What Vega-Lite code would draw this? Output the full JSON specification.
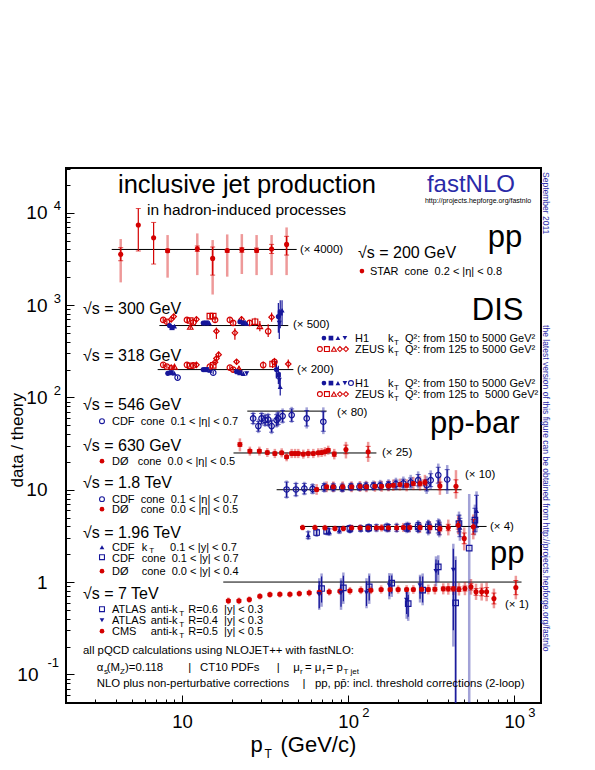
{
"$schema": "https://vega.github.io/schema/vega-lite/v6.json",
"width": 475, "height": 535,
"autosize": {"type": "none"},
"padding": {"left": 66, "top": 168, "right": 54, "bottom": 67},
"background": "white",
"config": {"view": {"stroke": "black", "strokeWidth": 2}, "font": "Liberation Sans",
  "axis": {"grid": false, "domain": false, "labelFont": "Liberation Sans", "titleFont": "Liberation Sans", "labelColor": "black", "titleColor": "black", "tickColor": "black", "labelFlush": false, "labelOverlap": false, "labelBound": false, "titleFontWeight": "normal"}},
"resolve": {"axis": {"x": "independent", "y": "independent"}},
"datasets": {
"ax": [{"x": 10, "y": 1}],
"lines": [
{"g":"a","x":3.77,"y":4000},{"g":"a","x":49.0,"y":4000},
{"g":"b","x":7.3,"y":600},{"g":"b","x":43.6,"y":600},
{"g":"c","x":7.13,"y":200},{"g":"c","x":46.8,"y":200},
{"g":"d","x":24.7,"y":71},{"g":"d","x":74.2,"y":71},
{"g":"e","x":20.4,"y":25},{"g":"e","x":148,"y":25},
{"g":"f","x":37.1,"y":10},{"g":"f","x":482,"y":10},
{"g":"g","x":51.3,"y":4},{"g":"g","x":682,"y":4},
{"g":"h","x":17.7,"y":1},{"g":"h","x":1107,"y":1}
],
"pts": [
{"s":"STAR","x":4.27,"y":3540,"lo":1760,"hi":5190,"slo":3020,"shi":4180},
{"s":"STAR","x":5.45,"y":7350,"slo":3850,"shi":11100},
{"s":"STAR","x":6.74,"y":5360,"slo":2780,"shi":7850},
{"s":"STAR","x":8.18,"y":3880,"lo":1980,"hi":5730,"slo":3720,"shi":4040},
{"s":"STAR","x":12.35,"y":4070,"lo":2110,"hi":5970,"slo":3810,"shi":4360},
{"s":"STAR","x":15.28,"y":3200,"lo":1300,"hi":5060,"slo":2110,"shi":4250},
{"s":"STAR","x":18.7,"y":3900,"lo":2030,"hi":5820,"slo":3720,"shi":4010},
{"s":"STAR","x":22.9,"y":3970,"lo":2170,"hi":5870,"slo":3720,"shi":4180},
{"s":"STAR","x":28.1,"y":3900,"lo":2110,"hi":5730,"slo":3720,"shi":4140},
{"s":"STAR","x":34.6,"y":4040,"lo":2110,"hi":5730,"slo":3620,"shi":4540},
{"s":"STAR","x":42.6,"y":4540,"lo":2110,"hi":6930,"slo":3480,"shi":5550},

{"s":"ZEUS a","x":7.7,"y":690,"slo":650,"shi":730},
{"s":"ZEUS a","x":8.1,"y":660,"slo":625,"shi":700},
{"s":"ZEUS a","x":10.7,"y":690,"slo":655,"shi":725},
{"s":"ZEUS a","x":11.7,"y":650,"slo":615,"shi":690},
{"s":"ZEUS a","x":15.8,"y":690,"slo":650,"shi":730},
{"s":"ZEUS a","x":19.4,"y":690,"slo":650,"shi":735},
{"s":"ZEUS a","x":20.3,"y":640,"slo":600,"shi":690},
{"s":"ZEUS a","x":25.5,"y":640,"slo":595,"shi":690},
{"s":"ZEUS a","x":33.0,"y":520,"slo":450,"shi":620},
{"s":"ZEUS b","x":11.2,"y":680,"slo":645,"shi":720},
{"s":"ZEUS b","x":14.7,"y":760,"slo":715,"shi":800},
{"s":"ZEUS b","x":15.4,"y":760,"slo":715,"shi":805},
{"s":"ZEUS b","x":27.5,"y":660,"slo":600,"shi":730},
{"s":"ZEUS c","x":11.2,"y":580,"slo":550,"shi":610},
{"s":"ZEUS c","x":29.4,"y":590,"slo":520,"shi":670},
{"s":"ZEUS d","x":8.6,"y":700,"slo":665,"shi":740},
{"s":"ZEUS d","x":12.2,"y":700,"slo":660,"shi":745},
{"s":"ZEUS d","x":16.1,"y":520,"slo":430,"shi":570},
{"s":"ZEUS d","x":20.8,"y":500,"slo":420,"shi":560},
{"s":"ZEUS d","x":34.6,"y":740,"slo":660,"shi":830},
{"s":"ZEUS e","x":8.9,"y":750,"slo":700,"shi":800},
{"s":"ZEUS e","x":22.8,"y":700,"slo":650,"shi":760},
{"s":"H1 a","x":8.4,"y":600,"slo":575,"shi":625},
{"s":"H1 a","x":13.4,"y":640,"slo":615,"shi":665},
{"s":"H1 a","x":22.3,"y":660,"slo":630,"shi":690},
{"s":"H1 a","x":38,"y":750,"slo":500,"shi":1050},
{"s":"H1 b","x":8.7,"y":570,"slo":548,"shi":595},
{"s":"H1 b","x":14.0,"y":640,"slo":615,"shi":665},
{"s":"H1 b","x":23.4,"y":640,"slo":610,"shi":670},
{"s":"H1 b","x":39,"y":820,"slo":560,"shi":1130},
{"s":"H1 c","x":9.0,"y":590,"slo":565,"shi":615},
{"s":"H1 c","x":14.6,"y":640,"slo":615,"shi":665},
{"s":"H1 c","x":24.5,"y":630,"slo":600,"shi":660},
{"s":"H1 c","x":40,"y":880,"slo":600,"shi":1130},
{"s":"H1 d","x":38.5,"y":640,"slo":430,"shi":900},

{"s":"ZEUS a","x":7.7,"y":225,"slo":214,"shi":236},
{"s":"ZEUS a","x":8.1,"y":215,"slo":205,"shi":226},
{"s":"ZEUS a","x":10.7,"y":225,"slo":214,"shi":237},
{"s":"ZEUS a","x":11.7,"y":222,"slo":211,"shi":233},
{"s":"ZEUS a","x":14.7,"y":215,"slo":204,"shi":227},
{"s":"ZEUS a","x":19.4,"y":210,"slo":198,"shi":222},
{"s":"ZEUS a","x":20.3,"y":200,"slo":188,"shi":212},
{"s":"ZEUS a","x":30.8,"y":224,"slo":205,"shi":245},
{"s":"ZEUS a","x":36,"y":243,"slo":220,"shi":268},
{"s":"ZEUS b","x":11.2,"y":220,"slo":209,"shi":231},
{"s":"ZEUS b","x":15.4,"y":222,"slo":210,"shi":234},
{"s":"ZEUS b","x":35.1,"y":230,"slo":208,"shi":255},
{"s":"ZEUS c","x":9.0,"y":215,"slo":205,"shi":226},
{"s":"ZEUS c","x":22,"y":205,"slo":192,"shi":218},
{"s":"ZEUS d","x":8.6,"y":210,"slo":200,"shi":221},
{"s":"ZEUS d","x":12.2,"y":225,"slo":213,"shi":237},
{"s":"ZEUS d","x":16.6,"y":290,"slo":270,"shi":312},
{"s":"ZEUS d","x":21.3,"y":243,"slo":228,"shi":258},
{"s":"ZEUS d","x":43.6,"y":230,"slo":205,"shi":258},
{"s":"ZEUS e","x":16.1,"y":264,"slo":247,"shi":282},
{"s":"ZEUS e","x":15.8,"y":240,"slo":226,"shi":254},
{"s":"H1 a","x":8.2,"y":182,"slo":174,"shi":190},
{"s":"H1 a","x":13.4,"y":200,"slo":192,"shi":208},
{"s":"H1 a","x":21.3,"y":190,"slo":181,"shi":199},
{"s":"H1 a","x":37,"y":200,"slo":160,"shi":250},
{"s":"H1 b","x":8.6,"y":185,"slo":177,"shi":193},
{"s":"H1 b","x":14.0,"y":200,"slo":192,"shi":208},
{"s":"H1 b","x":22.3,"y":185,"slo":176,"shi":194},
{"s":"H1 b","x":38,"y":175,"slo":140,"shi":220},
{"s":"H1 c","x":9.0,"y":182,"slo":174,"shi":190},
{"s":"H1 c","x":14.7,"y":195,"slo":187,"shi":203},
{"s":"H1 c","x":23.4,"y":180,"slo":171,"shi":189},
{"s":"H1 c","x":39,"y":130,"slo":105,"shi":160},
{"s":"H1 d","x":24.5,"y":182,"slo":173,"shi":191},
{"s":"H1 d","x":38.5,"y":154,"slo":125,"shi":190},
{"s":"H1 e","x":9.4,"y":164,"slo":157,"shi":171},
{"s":"H1 e","x":15.4,"y":185,"slo":177,"shi":193},

{"s":"CDF","x":26.8,"y":59.2,"slo":52,"shi":67,"lo":50,"hi":70},
{"s":"CDF","x":28.8,"y":48.9,"slo":43,"shi":55,"lo":41,"hi":58},
{"s":"CDF","x":30.1,"y":59.2,"slo":52,"shi":67,"lo":50,"hi":70},
{"s":"CDF","x":31.6,"y":56.8,"slo":50,"shi":64,"lo":48,"hi":67},
{"s":"CDF","x":33.0,"y":57.5,"slo":50,"shi":65,"lo":48,"hi":68},
{"s":"CDF","x":34.6,"y":48.9,"slo":42,"shi":56,"lo":40,"hi":59},
{"s":"CDF","x":37.1,"y":56.8,"slo":49,"shi":65,"lo":47,"hi":68},
{"s":"CDF","x":37.9,"y":59.2,"slo":51,"shi":68,"lo":49,"hi":71},
{"s":"CDF","x":40.3,"y":62.7,"slo":54,"shi":72,"lo":52,"hi":76},
{"s":"CDF","x":45.7,"y":64.3,"slo":55,"shi":75,"lo":53,"hi":79},
{"s":"CDF","x":56.3,"y":59.2,"slo":49,"shi":72,"lo":46,"hi":78},
{"s":"CDF","x":70.9,"y":54.5,"slo":43,"shi":70,"lo":40,"hi":78},

{"s":"D0","x":22.3,"y":30.9,"slo":29.5,"shi":32.4,"lo":26,"hi":36},
{"s":"D0","x":25.6,"y":26.2,"slo":25.2,"shi":27.2,"lo":23.4,"hi":29.3},
{"s":"D0","x":29.2,"y":26.2,"slo":25.2,"shi":27.2,"lo":23.4,"hi":29.3},
{"s":"D0","x":32.6,"y":25.3,"slo":24.3,"shi":26.3,"lo":22.6,"hi":28.3},
{"s":"D0","x":36.2,"y":24.7,"slo":23.7,"shi":25.7,"lo":22.0,"hi":27.7},
{"s":"D0","x":39.8,"y":25.1,"slo":24.1,"shi":26.1,"lo":22.4,"hi":28.1},
{"s":"D0","x":42.6,"y":22.7,"slo":21.8,"shi":23.6,"lo":20.3,"hi":25.4},
{"s":"D0","x":45.7,"y":24.7,"slo":23.7,"shi":25.7,"lo":22.0,"hi":27.7},
{"s":"D0","x":47.9,"y":24.7,"slo":23.7,"shi":25.7,"lo":22.0,"hi":27.7},
{"s":"D0","x":50.1,"y":24.7,"slo":23.7,"shi":25.7,"lo":22.0,"hi":27.7},
{"s":"D0","x":53.7,"y":24.3,"slo":23.3,"shi":25.3,"lo":21.7,"hi":27.2},
{"s":"D0","x":57.5,"y":24.7,"slo":23.7,"shi":25.7,"lo":22.0,"hi":27.7},
{"s":"D0","x":61.7,"y":24.7,"slo":23.7,"shi":25.7,"lo":22.0,"hi":27.7},
{"s":"D0","x":66.1,"y":25.1,"slo":24.1,"shi":26.1,"lo":22.4,"hi":28.1},
{"s":"D0","x":69.2,"y":25.3,"slo":24.3,"shi":26.3,"lo":22.6,"hi":28.3},
{"s":"D0","x":72.5,"y":25.8,"slo":24.8,"shi":26.8,"lo":23.0,"hi":28.9},
{"s":"D0","x":75.9,"y":26.8,"slo":25.7,"shi":27.9,"lo":23.9,"hi":30.0},
{"s":"D0","x":82.5,"y":24.3,"slo":23.0,"shi":25.6,"lo":21.3,"hi":27.7},
{"s":"D0","x":97.0,"y":27.3,"slo":24.5,"shi":30.4,"lo":21.8,"hi":33},
{"s":"D0","x":132,"y":25.8,"slo":22.5,"shi":29.5,"lo":20,"hi":33},

{"s":"CDF","x":42.6,"y":10.06,"slo":8.3,"shi":12.1,"lo":8.0,"hi":12.6},
{"s":"CDF","x":48.5,"y":10.06,"slo":8.6,"shi":11.7,"lo":8.3,"hi":12.2},
{"s":"CDF","x":54.5,"y":10.3,"slo":9.0,"shi":11.7,"lo":8.7,"hi":12.2},
{"s":"CDF","x":61.1,"y":10.2,"slo":9.2,"shi":11.3,"lo":8.9,"hi":11.8},
{"s":"CDF","x":71.8,"y":10.6,"slo":9.6,"shi":11.7,"lo":9.3,"hi":12.2},
{"s":"CDF","x":81.4,"y":10.6,"slo":9.7,"shi":11.6,"lo":9.4,"hi":12.1},
{"s":"CDF","x":92.2,"y":10.5,"slo":9.6,"shi":11.5,"lo":9.3,"hi":12.0},
{"s":"CDF","x":104,"y":10.75,"slo":9.9,"shi":11.7,"lo":9.6,"hi":12.2},
{"s":"CDF","x":117,"y":10.75,"slo":9.9,"shi":11.7,"lo":9.6,"hi":12.2},
{"s":"CDF","x":128,"y":10.9,"slo":10.0,"shi":11.9,"lo":9.6,"hi":12.5},
{"s":"CDF","x":142,"y":11.0,"slo":10.1,"shi":12.0,"lo":9.7,"hi":12.6},
{"s":"CDF","x":156,"y":11.1,"slo":10.2,"shi":12.1,"lo":9.7,"hi":12.8},
{"s":"CDF","x":175,"y":11.2,"slo":10.2,"shi":12.3,"lo":9.7,"hi":13.0},
{"s":"CDF","x":194,"y":11.5,"slo":10.4,"shi":12.7,"lo":9.9,"hi":13.5},
{"s":"CDF","x":215,"y":11.7,"slo":10.5,"shi":13.0,"lo":10.0,"hi":13.9},
{"s":"CDF","x":238,"y":12.0,"slo":10.7,"shi":13.4,"lo":10.1,"hi":14.5},
{"s":"CDF","x":264,"y":12.7,"slo":11.0,"shi":14.6,"lo":10.3,"hi":15.8},
{"s":"CDF","x":297,"y":11.2,"slo":9.7,"shi":12.9,"lo":9.0,"hi":14.0},
{"s":"CDF","x":314,"y":12.7,"slo":10.8,"shi":14.9,"lo":10.0,"hi":16.2},
{"s":"CDF","x":349,"y":14.4,"slo":11.8,"shi":17.5,"lo":10.8,"hi":19.2},
{"s":"CDF","x":395,"y":12.9,"slo":10.0,"shi":16.5,"lo":9.0,"hi":18.5},

{"s":"D0","x":64.6,"y":10.06,"slo":9.66,"shi":10.46,"lo":8.8,"hi":11.5},
{"s":"D0","x":74.2,"y":10.75,"slo":10.3,"shi":11.2,"lo":9.4,"hi":12.3},
{"s":"D0","x":81.4,"y":10.75,"slo":10.3,"shi":11.2,"lo":9.4,"hi":12.3},
{"s":"D0","x":92.7,"y":10.75,"slo":10.3,"shi":11.2,"lo":9.4,"hi":12.3},
{"s":"D0","x":105,"y":10.75,"slo":10.3,"shi":11.2,"lo":9.4,"hi":12.3},
{"s":"D0","x":118,"y":10.9,"slo":10.5,"shi":11.3,"lo":9.5,"hi":12.4},
{"s":"D0","x":129,"y":10.75,"slo":10.3,"shi":11.2,"lo":9.4,"hi":12.3},
{"s":"D0","x":145,"y":10.9,"slo":10.5,"shi":11.3,"lo":9.5,"hi":12.4},
{"s":"D0","x":159,"y":10.9,"slo":10.5,"shi":11.3,"lo":9.5,"hi":12.5},
{"s":"D0","x":175,"y":11.0,"slo":10.6,"shi":11.4,"lo":9.6,"hi":12.6},
{"s":"D0","x":187,"y":11.2,"slo":10.75,"shi":11.65,"lo":9.7,"hi":12.9},
{"s":"D0","x":205,"y":11.4,"slo":10.9,"shi":11.9,"lo":9.8,"hi":13.2},
{"s":"D0","x":225,"y":11.2,"slo":10.7,"shi":11.7,"lo":9.6,"hi":13.0},
{"s":"D0","x":247,"y":11.7,"slo":11.1,"shi":12.3,"lo":9.9,"hi":13.8},
{"s":"D0","x":271,"y":11.7,"slo":11.0,"shi":12.4,"lo":9.8,"hi":14.0},
{"s":"D0","x":290,"y":12.0,"slo":11.2,"shi":12.8,"lo":9.9,"hi":14.5},
{"s":"D0","x":357,"y":11.0,"slo":10.0,"shi":12.1,"lo":8.8,"hi":13.8},
{"s":"D0","x":446,"y":10.9,"slo":9.3,"shi":12.8,"lo":8.0,"hi":16.3},

{"s":"CDF kT","x":57.5,"y":3.22,"slo":2.95,"shi":3.5,"lo":2.85,"hi":3.65},
{"s":"CDF kT","x":76.9,"y":3.50,"slo":3.25,"shi":3.77,"lo":3.15,"hi":3.9},
{"s":"CDF kT","x":88.5,"y":3.65,"slo":3.4,"shi":3.92,"lo":3.3,"hi":4.05},
{"s":"CDF kT","x":102.5,"y":3.71,"slo":3.45,"shi":3.99,"lo":3.35,"hi":4.12},
{"s":"CDF kT","x":119,"y":3.80,"slo":3.53,"shi":4.09,"lo":3.42,"hi":4.22},
{"s":"CDF kT","x":132,"y":3.80,"slo":3.53,"shi":4.09,"lo":3.42,"hi":4.22},
{"s":"CDF kT","x":148,"y":3.87,"slo":3.58,"shi":4.18,"lo":3.46,"hi":4.32},
{"s":"CDF kT","x":175,"y":3.87,"slo":3.57,"shi":4.2,"lo":3.45,"hi":4.35},
{"s":"CDF kT","x":196,"y":3.87,"slo":3.55,"shi":4.22,"lo":3.42,"hi":4.4},
{"s":"CDF kT","x":230,"y":3.90,"slo":3.55,"shi":4.3,"lo":3.4,"hi":4.5},
{"s":"CDF kT","x":264,"y":3.96,"slo":3.55,"shi":4.42,"lo":3.38,"hi":4.65},
{"s":"CDF kT","x":304,"y":3.87,"slo":3.4,"shi":4.4,"lo":3.2,"hi":4.7},
{"s":"CDF kT","x":354,"y":3.80,"slo":3.25,"shi":4.45,"lo":3.05,"hi":4.8},
{"s":"CDF kT","x":471,"y":3.90,"slo":3.1,"shi":4.9,"lo":2.8,"hi":5.4},
{"s":"CDF kT","x":593,"y":5.91,"slo":3.9,"shi":8.7,"lo":3.5,"hi":9.6},
{"s":"CDF cone","x":64.6,"y":3.44,"slo":3.18,"shi":3.72,"lo":3.08,"hi":3.85},
{"s":"CDF cone","x":74.2,"y":3.56,"slo":3.3,"shi":3.85,"lo":3.2,"hi":3.98},
{"s":"CDF cone","x":102.5,"y":3.80,"slo":3.52,"shi":4.1,"lo":3.4,"hi":4.25},
{"s":"CDF cone","x":133,"y":3.87,"slo":3.57,"shi":4.2,"lo":3.45,"hi":4.35},
{"s":"CDF cone","x":171,"y":3.90,"slo":3.57,"shi":4.26,"lo":3.44,"hi":4.42},
{"s":"CDF cone","x":225,"y":3.90,"slo":3.53,"shi":4.3,"lo":3.38,"hi":4.5},
{"s":"CDF cone","x":264,"y":3.96,"slo":3.55,"shi":4.42,"lo":3.38,"hi":4.65},
{"s":"CDF cone","x":304,"y":3.96,"slo":3.48,"shi":4.5,"lo":3.3,"hi":4.75},
{"s":"CDF cone","x":349,"y":3.96,"slo":3.4,"shi":4.6,"lo":3.2,"hi":4.9},
{"s":"CDF cone","x":465,"y":4.31,"slo":3.5,"shi":5.3,"lo":3.2,"hi":5.8},
{"s":"CDF cone","x":580,"y":4.68,"slo":3.5,"shi":6.3,"lo":3.2,"hi":6.9},
{"s":"D0","x":53.2,"y":3.90,"slo":3.80,"shi":4.00,"lo":3.62,"hi":4.2},
{"s":"D0","x":63.1,"y":3.90,"slo":3.80,"shi":4.00,"lo":3.62,"hi":4.2},
{"s":"D0","x":72.5,"y":3.87,"slo":3.77,"shi":3.97,"lo":3.59,"hi":4.17},
{"s":"D0","x":83.3,"y":3.80,"slo":3.70,"shi":3.90,"lo":3.52,"hi":4.1},
{"s":"D0","x":93.6,"y":3.80,"slo":3.70,"shi":3.90,"lo":3.52,"hi":4.1},
{"s":"D0","x":105,"y":3.87,"slo":3.77,"shi":3.97,"lo":3.58,"hi":4.18},
{"s":"D0","x":118,"y":3.87,"slo":3.77,"shi":3.97,"lo":3.57,"hi":4.2},
{"s":"D0","x":132,"y":3.87,"slo":3.76,"shi":3.98,"lo":3.55,"hi":4.22},
{"s":"D0","x":148,"y":3.87,"slo":3.76,"shi":3.98,"lo":3.54,"hi":4.23},
{"s":"D0","x":159,"y":3.87,"slo":3.75,"shi":3.99,"lo":3.52,"hi":4.25},
{"s":"D0","x":175,"y":3.87,"slo":3.75,"shi":3.99,"lo":3.5,"hi":4.28},
{"s":"D0","x":196,"y":3.87,"slo":3.74,"shi":4.0,"lo":3.48,"hi":4.3},
{"s":"D0","x":215,"y":3.90,"slo":3.76,"shi":4.04,"lo":3.48,"hi":4.37},
{"s":"D0","x":235,"y":3.90,"slo":3.75,"shi":4.05,"lo":3.45,"hi":4.4},
{"s":"D0","x":271,"y":3.90,"slo":3.73,"shi":4.07,"lo":3.4,"hi":4.48},
{"s":"D0","x":311,"y":3.90,"slo":3.7,"shi":4.1,"lo":3.35,"hi":4.55},
{"s":"D0","x":357,"y":3.80,"slo":3.57,"shi":4.04,"lo":3.2,"hi":4.5},
{"s":"D0","x":401,"y":3.90,"slo":3.6,"shi":4.22,"lo":3.2,"hi":4.75},
{"s":"D0","x":460,"y":4.13,"slo":3.75,"shi":4.55,"lo":3.3,"hi":5.2},
{"s":"D0","x":500,"y":2.97,"slo":2.6,"shi":3.4,"lo":2.2,"hi":3.9},
{"s":"D0","x":567,"y":3.96,"slo":3.3,"shi":4.75,"lo":2.9,"hi":5.4},

{"s":"CMS","x":19.0,"y":0.626,"slo":0.607,"shi":0.645,"lo":0.575,"hi":0.68},
{"s":"CMS","x":22.0,"y":0.626,"slo":0.607,"shi":0.645,"lo":0.575,"hi":0.68},
{"s":"CMS","x":25.4,"y":0.647,"slo":0.628,"shi":0.667,"lo":0.595,"hi":0.70},
{"s":"CMS","x":29.4,"y":0.703,"slo":0.682,"shi":0.724,"lo":0.647,"hi":0.76},
{"s":"CMS","x":33.8,"y":0.733,"slo":0.711,"shi":0.755,"lo":0.675,"hi":0.79},
{"s":"CMS","x":38.8,"y":0.737,"slo":0.715,"shi":0.759,"lo":0.68,"hi":0.795},
{"s":"CMS","x":44.6,"y":0.737,"slo":0.715,"shi":0.759,"lo":0.68,"hi":0.795},
{"s":"CMS","x":50.8,"y":0.751,"slo":0.729,"shi":0.773,"lo":0.69,"hi":0.81},
{"s":"CMS","x":58.3,"y":0.764,"slo":0.741,"shi":0.787,"lo":0.70,"hi":0.83},
{"s":"CMS","x":67.0,"y":0.777,"slo":0.754,"shi":0.80,"lo":0.71,"hi":0.845},
{"s":"CMS","x":76.9,"y":0.783,"slo":0.76,"shi":0.806,"lo":0.715,"hi":0.855},
{"s":"CMS","x":89.3,"y":0.796,"slo":0.772,"shi":0.82,"lo":0.725,"hi":0.87},
{"s":"CMS","x":102.5,"y":0.806,"slo":0.782,"shi":0.83,"lo":0.73,"hi":0.885},
{"s":"CMS","x":119.4,"y":0.816,"slo":0.79,"shi":0.842,"lo":0.74,"hi":0.9},
{"s":"CMS","x":137,"y":0.816,"slo":0.79,"shi":0.842,"lo":0.74,"hi":0.9},
{"s":"CMS","x":158,"y":0.830,"slo":0.803,"shi":0.857,"lo":0.75,"hi":0.92},
{"s":"CMS","x":179,"y":0.830,"slo":0.803,"shi":0.857,"lo":0.75,"hi":0.92},
{"s":"CMS","x":200,"y":0.830,"slo":0.803,"shi":0.857,"lo":0.75,"hi":0.92},
{"s":"CMS","x":225,"y":0.830,"slo":0.80,"shi":0.86,"lo":0.745,"hi":0.925},
{"s":"CMS","x":247,"y":0.830,"slo":0.80,"shi":0.86,"lo":0.745,"hi":0.925},
{"s":"CMS","x":277,"y":0.837,"slo":0.805,"shi":0.87,"lo":0.745,"hi":0.94},
{"s":"CMS","x":304,"y":0.830,"slo":0.797,"shi":0.864,"lo":0.735,"hi":0.94},
{"s":"CMS","x":333,"y":0.837,"slo":0.80,"shi":0.875,"lo":0.735,"hi":0.95},
{"s":"CMS","x":374,"y":0.844,"slo":0.805,"shi":0.885,"lo":0.735,"hi":0.97},
{"s":"CMS","x":401,"y":0.844,"slo":0.80,"shi":0.89,"lo":0.73,"hi":0.975},
{"s":"CMS","x":430,"y":0.844,"slo":0.80,"shi":0.89,"lo":0.725,"hi":0.985},
{"s":"CMS","x":465,"y":0.837,"slo":0.79,"shi":0.887,"lo":0.715,"hi":0.98},
{"s":"CMS","x":505,"y":0.851,"slo":0.80,"shi":0.905,"lo":0.72,"hi":1.0},
{"s":"CMS","x":549,"y":0.887,"slo":0.82,"shi":0.96,"lo":0.73,"hi":1.08},
{"s":"CMS","x":589,"y":0.783,"slo":0.72,"shi":0.85,"lo":0.64,"hi":0.96},
{"s":"CMS","x":637,"y":0.783,"slo":0.71,"shi":0.86,"lo":0.63,"hi":0.97},
{"s":"CMS","x":682,"y":0.783,"slo":0.70,"shi":0.87,"lo":0.62,"hi":0.99},
{"s":"CMS","x":755,"y":0.663,"slo":0.58,"shi":0.76,"lo":0.52,"hi":0.85},
{"s":"CMS","x":1023,"y":0.873,"slo":0.73,"shi":1.04,"lo":0.65,"hi":1.17},

{"s":"ATLAS R6","x":69.2,"y":0.851,"slo":0.6,"shi":1.15,"lo":0.54,"hi":1.24},
{"s":"ATLAS R6","x":93.6,"y":0.865,"slo":0.62,"shi":1.17,"lo":0.58,"hi":1.27},
{"s":"ATLAS R6","x":134,"y":0.887,"slo":0.63,"shi":1.17,"lo":0.58,"hi":1.24},
{"s":"ATLAS R6","x":183,"y":0.975,"slo":0.75,"shi":1.18,"lo":0.69,"hi":1.24},
{"s":"ATLAS R6","x":230,"y":0.585,"slo":0.42,"shi":0.73,"lo":0.38,"hi":0.78},
{"s":"ATLAS R6","x":281,"y":0.816,"slo":0.6,"shi":1.15,"lo":0.56,"hi":1.24},
{"s":"ATLAS R6","x":349,"y":1.46,"slo":1.2,"shi":1.72,"lo":1.0,"hi":1.95},
{"s":"ATLAS R6","x":444,"y":0.595,"slo":0.01,"shi":1.73,"lo":0.01,"hi":1.9},
{"s":"ATLAS R6","x":536,"y":2.33,"lo":0.01,"hi":9.0},
{"s":"ATLAS R4","x":67.0,"y":0.737,"slo":0.52,"shi":1.02,"lo":0.5,"hi":1.1},
{"s":"ATLAS R4","x":90.6,"y":0.765,"slo":0.54,"shi":1.04,"lo":0.5,"hi":1.1},
{"s":"ATLAS R4","x":129,"y":0.765,"slo":0.55,"shi":1.02,"lo":0.52,"hi":1.1},
{"s":"ATLAS R4","x":177,"y":0.920,"slo":0.7,"shi":1.17,"lo":0.65,"hi":1.25},
{"s":"ATLAS R4","x":225,"y":0.638,"slo":0.45,"shi":0.8,"lo":0.4,"hi":0.85},
{"s":"ATLAS R4","x":271,"y":0.920,"slo":0.66,"shi":1.15,"lo":0.6,"hi":1.2},
{"s":"ATLAS R4","x":338,"y":1.31,"slo":1.0,"shi":1.75,"lo":0.9,"hi":1.9},
{"s":"ATLAS R4","x":430,"y":1.35,"slo":0.3,"shi":2.3,"lo":0.2,"hi":2.6}
],
"lg": [
{"s":"STAR","x":121.1,"y":2334},
{"s":"H1 a","x":71.5,"y":438.7},{"s":"H1 b","x":78.8,"y":438.7},{"s":"H1 c","x":86.8,"y":438.7},{"s":"H1 d","x":95.6,"y":438.7},
{"s":"ZEUS a","x":67.6,"y":333.4},{"s":"ZEUS b","x":74.5,"y":333.4},{"s":"ZEUS c","x":82.1,"y":333.4},{"s":"ZEUS d","x":89.2,"y":333.4},{"s":"ZEUS e","x":97.0,"y":333.4},
{"s":"H1 a","x":71.5,"y":142.8},{"s":"H1 b","x":78.8,"y":142.8},{"s":"H1 c","x":86.8,"y":142.8},{"s":"H1 d","x":95.6,"y":142.8},{"s":"H1 e","x":104,"y":142.8},
{"s":"ZEUS a","x":67.6,"y":108.5},{"s":"ZEUS b","x":74.5,"y":108.5},{"s":"ZEUS c","x":82.1,"y":108.5},{"s":"ZEUS d","x":89.2,"y":108.5},{"s":"ZEUS e","x":97.0,"y":108.5},
{"s":"CDF","x":3.294,"y":55.3},
{"s":"D0","x":3.294,"y":20.4},
{"s":"CDF","x":3.294,"y":7.91},
{"s":"D0","x":3.294,"y":6.16},
{"s":"CDF kT","x":3.294,"y":2.387},
{"s":"CDF cone","x":3.294,"y":1.861},
{"s":"D0","x":3.294,"y":1.311},
{"s":"ATLAS R6","x":3.294,"y":0.5083},
{"s":"ATLAS R4","x":3.294,"y":0.3864},
{"s":"CMS","x":3.294,"y":0.2935}
],
"txt": [
{"k":"title","x":4.113,"y":16340,"t":"inclusive jet production"},
{"k":"subt","x":6.148,"y":9437,"t":"in hadron-induced processes"},
{"k":"fast","x":298,"y":16750,"t":"fastNLO"},
{"k":"url","x":290,"y":12890,"t":"http://projects.hepforge.org/fastnlo"},
{"k":"sc","x":51.3,"y":3657,"t":"(× 4000)"},
{"k":"rs","x":114.6,"y":3228,"t":"√s = 200 GeV"},
{"k":"big","x":694,"y":4247,"t":"pp"},
{"k":"leg","x":135.3,"y":2112,"t":"STAR\u00a0 cone\u00a0 0.2 < |η| < 0.8"},
{"k":"rs","x":2.532,"y":798.5,"t":"√s = 300 GeV"},
{"k":"sc","x":46.5,"y":563,"t":"(× 500)"},
{"k":"big","x":556,"y":687.6,"t":"DIS"},
{"k":"leg","x":109.9,"y":397,"t":"H1"},
{"k":"leg","x":173.6,"y":397,"t":"k"},
{"k":"subs","x":188.7,"y":368.5,"t":"T"},
{"k":"leg","x":219.8,"y":397,"t":"Q²: from 150 to 5000 GeV²"},
{"k":"leg","x":109.9,"y":301.9,"t":"ZEUS"},
{"k":"leg","x":173.6,"y":301.9,"t":"k"},
{"k":"subs","x":188.7,"y":280,"t":"T"},
{"k":"leg","x":219.8,"y":301.9,"t":"Q²: from 125 to 5000 GeV²"},
{"k":"rs","x":2.532,"y":247.2,"t":"√s = 318 GeV"},
{"k":"sc","x":49.2,"y":183.2,"t":"(× 200)"},
{"k":"leg","x":109.9,"y":129.2,"t":"H1"},
{"k":"leg","x":173.6,"y":129.2,"t":"k"},
{"k":"subs","x":188.7,"y":119.9,"t":"T"},
{"k":"leg","x":219.8,"y":129.2,"t":"Q²: from 150 to 5000 GeV²"},
{"k":"leg","x":109.9,"y":98.2,"t":"ZEUS"},
{"k":"leg","x":173.6,"y":98.2,"t":"k"},
{"k":"subs","x":188.7,"y":91.1,"t":"T"},
{"k":"leg","x":219.8,"y":98.2,"t":"Q²: from 125 to\u00a0 5000 GeV²"},
{"k":"rs","x":2.532,"y":72.8,"t":"√s = 546 GeV"},
{"k":"sc","x":85.6,"y":62.7,"t":"(× 80)"},
{"k":"leg","x":3.783,"y":50.1,"t":"CDF\u00a0 cone\u00a0 0.1 < |η| < 0.7"},
{"k":"big","x":310.8,"y":41.0,"t":"pp-bar"},
{"k":"rs","x":2.532,"y":26.2,"t":"√s = 630 GeV"},
{"k":"sc","x":159.8,"y":23.1,"t":"(× 25)"},
{"k":"leg","x":3.783,"y":18.46,"t":"DØ\u00a0\u00a0 cone\u00a0 0.0 < |η| < 0.5"},
{"k":"rs","x":2.532,"y":10.40,"t":"√s = 1.8 TeV"},
{"k":"sc","x":505,"y":13.35,"t":"(× 10)"},
{"k":"leg","x":3.783,"y":7.15,"t":"CDF\u00a0 cone\u00a0 0.1 < |η| < 0.7"},
{"k":"leg","x":3.783,"y":5.575,"t":"DØ\u00a0\u00a0\u00a0 cone\u00a0 0.0 < |η| < 0.5"},
{"k":"rs","x":2.532,"y":2.988,"t":"√s = 1.96 TeV"},
{"k":"sc","x":714,"y":3.648,"t":"(× 4)"},
{"k":"leg","x":3.783,"y":2.160,"t":"CDF"},
{"k":"leg","x":5.71,"y":2.160,"t":"k"},
{"k":"subs","x":6.35,"y":2.055,"t":"T"},
{"k":"leg","x":8.46,"y":2.160,"t":"0.1 < |y| < 0.7"},
{"k":"leg","x":3.783,"y":1.642,"t":"CDF"},
{"k":"leg","x":5.71,"y":1.642,"t":"cone\u00a0 0.1 < |y| < 0.7"},
{"k":"leg","x":3.783,"y":1.187,"t":"DØ"},
{"k":"leg","x":5.71,"y":1.187,"t":"cone\u00a0 0.0 < |y| < 0.4"},
{"k":"big","x":714,"y":1.601,"t":"pp"},
{"k":"rs","x":2.532,"y":0.652,"t":"√s = 7 TeV"},
{"k":"sc","x":879,"y":0.521,"t":"(× 1)"},
{"k":"leg","x":3.783,"y":0.460,"t":"ATLAS"},
{"k":"leg","x":6.47,"y":0.460,"t":"anti-k"},
{"k":"subs","x":9.6,"y":0.4268,"t":"T"},
{"k":"leg","x":10.9,"y":0.460,"t":"R=0.6\u00a0 |y| < 0.3"},
{"k":"leg","x":3.783,"y":0.3496,"t":"ATLAS"},
{"k":"leg","x":6.47,"y":0.3496,"t":"anti-k"},
{"k":"subs","x":9.6,"y":0.3244,"t":"T"},
{"k":"leg","x":10.9,"y":0.3496,"t":"R=0.4\u00a0 |y| < 0.3"},
{"k":"leg","x":3.783,"y":0.2657,"t":"CMS"},
{"k":"leg","x":6.47,"y":0.2657,"t":"anti-k"},
{"k":"subs","x":9.6,"y":0.2465,"t":"T"},
{"k":"leg","x":10.9,"y":0.2657,"t":"R=0.5\u00a0 |y| < 0.5"},
{"k":"note","x":2.532,"y":0.1654,"t":"all pQCD calculations using NLOJET++ with fastNLO:"},
{"k":"note","x":3.060,"y":0.1083,"t":"α"},
{"k":"subs","x":3.387,"y":0.1004,"t":"s"},
{"k":"note","x":3.516,"y":0.1083,"t":"(M"},
{"k":"subs","x":4.228,"y":0.1004,"t":"Z"},
{"k":"note","x":4.53,"y":0.1083,"t":")=0.118"},
{"k":"note","x":10.90,"y":0.1083,"t":"|"},
{"k":"note","x":12.82,"y":0.1083,"t":"CT10 PDFs"},
{"k":"note","x":37.11,"y":0.1083,"t":"|"},
{"k":"note","x":46.7,"y":0.1083,"t":"μ"},
{"k":"subs","x":51.3,"y":0.1004,"t":"r"},
{"k":"note","x":54.95,"y":0.1083,"t":"= μ"},
{"k":"subs","x":70.2,"y":0.1004,"t":"f"},
{"k":"note","x":74.2,"y":0.1083,"t":"= p"},
{"k":"subs","x":93.7,"y":0.1004,"t":"T jet"},
{"k":"note","x":3.060,"y":0.0726,"t":"NLO plus non-perturbative corrections"},
{"k":"note","x":53.2,"y":0.0726,"t":"|"},
{"k":"note","x":63.1,"y":0.0726,"t":"pp, pp̄: incl. threshold corrections (2-loop)"},
{"k":"side","x":1499,"y":27590,"t":"September 2011"},
{"k":"side","x":1499,"y":607,"t":"the latest version of this figure can be obtained from http://projects.hepforge.org/fastnlo"}
]
},
"layer": [
{"data":{"name":"lines"},"mark":{"type":"line","color":"black","strokeWidth":1,"clip":true},
 "encoding":{"x":{"field":"x","type":"quantitative","scale":{"type":"log","domain":[2,1450],"nice":false},"axis":null},
 "y":{"field":"y","type":"quantitative","scale":{"type":"log","domain":[0.049,30500],"nice":false},"axis":null},
 "detail":{"field":"g"}}},
{"data":{"name":"pts"},"transform":[{"filter":"isValid(datum.lo)"}],"mark":{"type":"rule","strokeWidth":2.5,"opacity":0.4,"clip":true},
 "encoding":{"x":{"field":"x","type":"quantitative","scale":{"type":"log","domain":[2,1450],"nice":false},"axis":null},
 "y":{"field":"lo","type":"quantitative","scale":{"type":"log","domain":[0.049,30500],"nice":false},"axis":null},
 "y2":{"field":"hi"},
 "color":{"field":"s","type":"nominal","legend":null,"scale":{"domain":["STAR","D0","CMS","ZEUS a","ZEUS b","ZEUS c","ZEUS d","ZEUS e","H1 a","H1 b","H1 c","H1 d","H1 e","CDF","CDF kT","CDF cone","ATLAS R6","ATLAS R4"],"range":["#d40000","#d40000","#d40000","#d40000","#d40000","#d40000","#d40000","#d40000","#16169a","#16169a","#16169a","#16169a","#16169a","#16169a","#16169a","#16169a","#16169a","#16169a"]}}}},
{"data":{"name":"pts"},"transform":[{"filter":"isValid(datum.slo)"}],"mark":{"type":"rule","strokeWidth":1.2,"clip":true},
 "encoding":{"x":{"field":"x","type":"quantitative","scale":{"type":"log","domain":[2,1450],"nice":false},"axis":null},
 "y":{"field":"slo","type":"quantitative","scale":{"type":"log","domain":[0.049,30500],"nice":false},"axis":null},
 "y2":{"field":"shi"},
 "color":{"field":"s","type":"nominal","legend":null}}},
{"data":{"name":"pts"},"transform":[{"filter":"isValid(datum.slo) && indexof(['STAR','D0','CMS','CDF','CDF kT','CDF cone'], datum.s) >= 0"}],"mark":{"type":"tick","orient":"horizontal","size":5,"thickness":1,"clip":true},
 "encoding":{"x":{"field":"x","type":"quantitative","scale":{"type":"log","domain":[2,1450],"nice":false},"axis":null},
 "y":{"field":"slo","type":"quantitative","scale":{"type":"log","domain":[0.049,30500],"nice":false},"axis":null},
 "color":{"field":"s","type":"nominal","legend":null}}},
{"data":{"name":"pts"},"transform":[{"filter":"isValid(datum.shi) && indexof(['STAR','D0','CMS','CDF','CDF kT','CDF cone'], datum.s) >= 0"}],"mark":{"type":"tick","orient":"horizontal","size":5,"thickness":1,"clip":true},
 "encoding":{"x":{"field":"x","type":"quantitative","scale":{"type":"log","domain":[2,1450],"nice":false},"axis":null},
 "y":{"field":"shi","type":"quantitative","scale":{"type":"log","domain":[0.049,30500],"nice":false},"axis":null},
 "color":{"field":"s","type":"nominal","legend":null}}},
{"data":{"name":"pts"},"transform":[{"filter":"indexof(['STAR','D0','CMS','H1 a','H1 b','H1 c','H1 d','CDF kT','ATLAS R4'], datum.s) < 0"}],"mark":{"type":"point","filled":false,"strokeWidth":1.2,"size":30,"opacity":1,"clip":true},
 "encoding":{"x":{"field":"x","type":"quantitative","scale":{"type":"log","domain":[2,1450],"nice":false},"axis":null},
 "y":{"field":"y","type":"quantitative","scale":{"type":"log","domain":[0.049,30500],"nice":false},"axis":null},
 "color":{"field":"s","type":"nominal","legend":null},
 "shape":{"field":"s","type":"nominal","legend":null,"scale":{"domain":["STAR","D0","CMS","ZEUS a","ZEUS b","ZEUS c","ZEUS d","ZEUS e","H1 a","H1 b","H1 c","H1 d","H1 e","CDF","CDF kT","CDF cone","ATLAS R6","ATLAS R4"],"range":["circle","circle","circle","circle","square","triangle-up","diamond","diamond","circle","square","triangle-up","triangle-down","circle","circle","triangle-up","square","square","triangle-down"]}}}},
{"data":{"name":"pts"},"transform":[{"filter":"indexof(['STAR','D0','CMS','H1 a','H1 b','H1 c','H1 d','CDF kT','ATLAS R4'], datum.s) >= 0"}],"mark":{"type":"point","filled":true,"size":26,"opacity":1,"clip":true},
 "encoding":{"x":{"field":"x","type":"quantitative","scale":{"type":"log","domain":[2,1450],"nice":false},"axis":null},
 "y":{"field":"y","type":"quantitative","scale":{"type":"log","domain":[0.049,30500],"nice":false},"axis":null},
 "color":{"field":"s","type":"nominal","legend":null},
 "shape":{"field":"s","type":"nominal","legend":null}}},
{"data":{"name":"lg"},"transform":[{"filter":"indexof(['STAR','D0','CMS','H1 a','H1 b','H1 c','H1 d','CDF kT','ATLAS R4'], datum.s) < 0"}],"mark":{"type":"point","filled":false,"strokeWidth":1.1,"size":24,"opacity":1},
 "encoding":{"x":{"field":"x","type":"quantitative","scale":{"type":"log","domain":[2,1450],"nice":false},"axis":null},
 "y":{"field":"y","type":"quantitative","scale":{"type":"log","domain":[0.049,30500],"nice":false},"axis":null},
 "color":{"field":"s","type":"nominal","legend":null},
 "shape":{"field":"s","type":"nominal","legend":null}}},
{"data":{"name":"lg"},"transform":[{"filter":"indexof(['STAR','D0','CMS','H1 a','H1 b','H1 c','H1 d','CDF kT','ATLAS R4'], datum.s) >= 0"}],"mark":{"type":"point","filled":true,"size":22,"opacity":1},
 "encoding":{"x":{"field":"x","type":"quantitative","scale":{"type":"log","domain":[2,1450],"nice":false},"axis":null},
 "y":{"field":"y","type":"quantitative","scale":{"type":"log","domain":[0.049,30500],"nice":false},"axis":null},
 "color":{"field":"s","type":"nominal","legend":null},
 "shape":{"field":"s","type":"nominal","legend":null}}},

{"data":{"name":"txt"},"transform":[{"filter":"datum.k=='title'"}],"mark":{"type":"text","align":"left","baseline":"alphabetic","fontSize":25.5,"color":"black"},
 "encoding":{"x":{"field":"x","type":"quantitative","scale":{"type":"log","domain":[2,1450],"nice":false},"axis":null},"y":{"field":"y","type":"quantitative","scale":{"type":"log","domain":[0.049,30500],"nice":false},"axis":null},"text":{"field":"t"}}},
{"data":{"name":"txt"},"transform":[{"filter":"datum.k=='subt'"}],"mark":{"type":"text","align":"left","baseline":"alphabetic","fontSize":15.5,"color":"black"},
 "encoding":{"x":{"field":"x","type":"quantitative","scale":{"type":"log","domain":[2,1450],"nice":false},"axis":null},"y":{"field":"y","type":"quantitative","scale":{"type":"log","domain":[0.049,30500],"nice":false},"axis":null},"text":{"field":"t"}}},
{"data":{"name":"txt"},"transform":[{"filter":"datum.k=='fast'"}],"mark":{"type":"text","align":"left","baseline":"alphabetic","fontSize":24,"color":"#2a2aa8"},
 "encoding":{"x":{"field":"x","type":"quantitative","scale":{"type":"log","domain":[2,1450],"nice":false},"axis":null},"y":{"field":"y","type":"quantitative","scale":{"type":"log","domain":[0.049,30500],"nice":false},"axis":null},"text":{"field":"t"}}},
{"data":{"name":"txt"},"transform":[{"filter":"datum.k=='url'"}],"mark":{"type":"text","align":"left","baseline":"alphabetic","fontSize":7,"color":"black"},
 "encoding":{"x":{"field":"x","type":"quantitative","scale":{"type":"log","domain":[2,1450],"nice":false},"axis":null},"y":{"field":"y","type":"quantitative","scale":{"type":"log","domain":[0.049,30500],"nice":false},"axis":null},"text":{"field":"t"}}},
{"data":{"name":"txt"},"transform":[{"filter":"datum.k=='rs'"}],"mark":{"type":"text","align":"left","baseline":"alphabetic","fontSize":16,"color":"black"},
 "encoding":{"x":{"field":"x","type":"quantitative","scale":{"type":"log","domain":[2,1450],"nice":false},"axis":null},"y":{"field":"y","type":"quantitative","scale":{"type":"log","domain":[0.049,30500],"nice":false},"axis":null},"text":{"field":"t"}}},
{"data":{"name":"txt"},"transform":[{"filter":"datum.k=='big'"}],"mark":{"type":"text","align":"left","baseline":"alphabetic","fontSize":31,"color":"black"},
 "encoding":{"x":{"field":"x","type":"quantitative","scale":{"type":"log","domain":[2,1450],"nice":false},"axis":null},"y":{"field":"y","type":"quantitative","scale":{"type":"log","domain":[0.049,30500],"nice":false},"axis":null},"text":{"field":"t"}}},
{"data":{"name":"txt"},"transform":[{"filter":"datum.k=='sc'"}],"mark":{"type":"text","align":"left","baseline":"alphabetic","fontSize":11.5,"color":"black"},
 "encoding":{"x":{"field":"x","type":"quantitative","scale":{"type":"log","domain":[2,1450],"nice":false},"axis":null},"y":{"field":"y","type":"quantitative","scale":{"type":"log","domain":[0.049,30500],"nice":false},"axis":null},"text":{"field":"t"}}},
{"data":{"name":"txt"},"transform":[{"filter":"datum.k=='leg'"}],"mark":{"type":"text","align":"left","baseline":"alphabetic","fontSize":11,"color":"black"},
 "encoding":{"x":{"field":"x","type":"quantitative","scale":{"type":"log","domain":[2,1450],"nice":false},"axis":null},"y":{"field":"y","type":"quantitative","scale":{"type":"log","domain":[0.049,30500],"nice":false},"axis":null},"text":{"field":"t"}}},
{"data":{"name":"txt"},"transform":[{"filter":"datum.k=='subs'"}],"mark":{"type":"text","align":"left","baseline":"alphabetic","fontSize":8,"color":"black"},
 "encoding":{"x":{"field":"x","type":"quantitative","scale":{"type":"log","domain":[2,1450],"nice":false},"axis":null},"y":{"field":"y","type":"quantitative","scale":{"type":"log","domain":[0.049,30500],"nice":false},"axis":null},"text":{"field":"t"}}},
{"data":{"name":"txt"},"transform":[{"filter":"datum.k=='note'"}],"mark":{"type":"text","align":"left","baseline":"alphabetic","fontSize":11.4,"color":"black"},
 "encoding":{"x":{"field":"x","type":"quantitative","scale":{"type":"log","domain":[2,1450],"nice":false},"axis":null},"y":{"field":"y","type":"quantitative","scale":{"type":"log","domain":[0.049,30500],"nice":false},"axis":null},"text":{"field":"t"}}},
{"data":{"name":"txt"},"transform":[{"filter":"datum.k=='side'"}],"mark":{"type":"text","align":"left","baseline":"alphabetic","fontSize":8.5,"angle":90,"color":"#2a2aa8"},
 "encoding":{"x":{"field":"x","type":"quantitative","scale":{"type":"log","domain":[2,1450],"nice":false},"axis":null},"y":{"field":"y","type":"quantitative","scale":{"type":"log","domain":[0.049,30500],"nice":false},"axis":null},"text":{"field":"t"}}},

{"data":{"name":"ax"},"mark":{"type":"point","opacity":0},
 "encoding":{"x":{"field":"x","type":"quantitative","scale":{"type":"log","domain":[2,1450],"nice":false},
   "axis":{"orient":"bottom","values":[10,100,1000],"labelExpr":"'10'","ticks":false,"labelFontSize":18.5,"labelPadding":9.5,
     "title":"p","titleFontSize":22,"titleX":184,"titleY":48.7,"titleAlign":"left","titleBaseline":"alphabetic","titleAnchor":"start"}},
  "y":{"field":"y","type":"quantitative","scale":{"type":"log","domain":[0.049,30500],"nice":false},"axis":null}}},
{"data":{"name":"ax"},"mark":{"type":"point","opacity":0},
 "encoding":{"x":{"field":"x","type":"quantitative","scale":{"type":"log","domain":[2,1450],"nice":false},
   "axis":{"orient":"bottom","values":[100,1000],"labelExpr":"datum.value >= 1000 ? '3' : '2'","ticks":false,"labelFontSize":13,"labelPadding":3,"labelAlign":"left","labelOffset":13.5,
     "title":"T","titleFontSize":12,"titleX":198,"titleY":54,"titleAlign":"left","titleBaseline":"alphabetic","titleAnchor":"start"}},
  "y":{"field":"y","type":"quantitative","scale":{"type":"log","domain":[0.049,30500],"nice":false},"axis":null}}},
{"data":{"name":"ax"},"mark":{"type":"point","opacity":0},
 "encoding":{"x":{"field":"x","type":"quantitative","scale":{"type":"log","domain":[2,1450],"nice":false},
   "axis":{"orient":"bottom","values":[10,100,1000],"labels":false,"ticks":true,"tickSize":-8,"tickWidth":1,
     "title":"(GeV/c)","titleFontSize":22,"titleX":214,"titleY":48.7,"titleAlign":"left","titleBaseline":"alphabetic","titleAnchor":"start"}},
  "y":{"field":"y","type":"quantitative","scale":{"type":"log","domain":[0.049,30500],"nice":false},"axis":null}}},
{"data":{"name":"ax"},"mark":{"type":"point","opacity":0},
 "encoding":{"x":{"field":"x","type":"quantitative","scale":{"type":"log","domain":[2,1450],"nice":false},
   "axis":{"orient":"bottom","values":[3,4,5,6,7,8,9,20,30,40,50,60,70,80,90,200,300,400,500,600,700,800,900],"labels":false,"ticks":true,"tickSize":-4,"tickWidth":1,"title":null}},
  "y":{"field":"y","type":"quantitative","scale":{"type":"log","domain":[0.049,30500],"nice":false},"axis":null}}},

{"data":{"name":"ax"},"mark":{"type":"point","opacity":0},
 "encoding":{"y":{"field":"y","type":"quantitative","scale":{"type":"log","domain":[0.049,30500],"nice":false},
   "axis":{"orient":"left","values":[1,10,100,1000,10000],"labelExpr":"datum.value == 1 ? '1' : '10'","ticks":false,"labelFontSize":19,"labelPadding":19,"labelAlign":"right","labelBaseline":"middle",
     "title":"data / theory","titleFontSize":17,"titleAngle":270,"titleX":-44,"titleY":319,"titleAlign":"left","titleBaseline":"alphabetic","titleAnchor":"start"}},
  "x":{"field":"x","type":"quantitative","scale":{"type":"log","domain":[2,1450],"nice":false},"axis":null}}},
{"data":{"name":"ax"},"mark":{"type":"point","opacity":0},
 "encoding":{"y":{"field":"y","type":"quantitative","scale":{"type":"log","domain":[0.049,30500],"nice":false},
   "axis":{"orient":"left","values":[0.1],"labelExpr":"'10'","ticks":false,"labelFontSize":19,"labelPadding":28,"labelAlign":"right","labelBaseline":"middle","title":null}},
  "x":{"field":"x","type":"quantitative","scale":{"type":"log","domain":[2,1450],"nice":false},"axis":null}}},
{"data":{"name":"ax"},"mark":{"type":"point","opacity":0},
 "encoding":{"y":{"field":"y","type":"quantitative","scale":{"type":"log","domain":[0.049,30500],"nice":false},
   "axis":{"orient":"left","values":[100,1000,10000],"labelExpr":"datum.value >= 10000 ? '4' : datum.value >= 1000 ? '3' : '2'","ticks":false,"labelFontSize":13,"labelPadding":12.7,"labelAlign":"left","labelBaseline":"middle","labelOffset":-7,"title":null}},
  "x":{"field":"x","type":"quantitative","scale":{"type":"log","domain":[2,1450],"nice":false},"axis":null}}},
{"data":{"name":"ax"},"mark":{"type":"point","opacity":0},
 "encoding":{"y":{"field":"y","type":"quantitative","scale":{"type":"log","domain":[0.049,30500],"nice":false},
   "axis":{"orient":"left","values":[0.1],"labelExpr":"'-1'","ticks":false,"labelFontSize":13,"labelPadding":19,"labelAlign":"left","labelBaseline":"middle","labelOffset":-12,"title":null}},
  "x":{"field":"x","type":"quantitative","scale":{"type":"log","domain":[2,1450],"nice":false},"axis":null}}},
{"data":{"name":"ax"},"mark":{"type":"point","opacity":0},
 "encoding":{"y":{"field":"y","type":"quantitative","scale":{"type":"log","domain":[0.049,30500],"nice":false},
   "axis":{"orient":"left","values":[0.1,1,10,100,1000,10000],"labels":false,"ticks":true,"tickSize":-8,"tickWidth":1,"title":null}},
  "x":{"field":"x","type":"quantitative","scale":{"type":"log","domain":[2,1450],"nice":false},"axis":null}}},
{"data":{"name":"ax"},"mark":{"type":"point","opacity":0},
 "encoding":{"y":{"field":"y","type":"quantitative","scale":{"type":"log","domain":[0.049,30500],"nice":false},
   "axis":{"orient":"left","values":[0.05,0.06,0.07,0.08,0.09,0.2,0.3,0.4,0.5,0.6,0.7,0.8,0.9,2,3,4,5,6,7,8,9,20,30,40,50,60,70,80,90,200,300,400,500,600,700,800,900,2000,3000,4000,5000,6000,7000,8000,9000,20000,30000],"labels":false,"ticks":true,"tickSize":-4,"tickWidth":1,"title":null}},
  "x":{"field":"x","type":"quantitative","scale":{"type":"log","domain":[2,1450],"nice":false},"axis":null}}}
]
}
